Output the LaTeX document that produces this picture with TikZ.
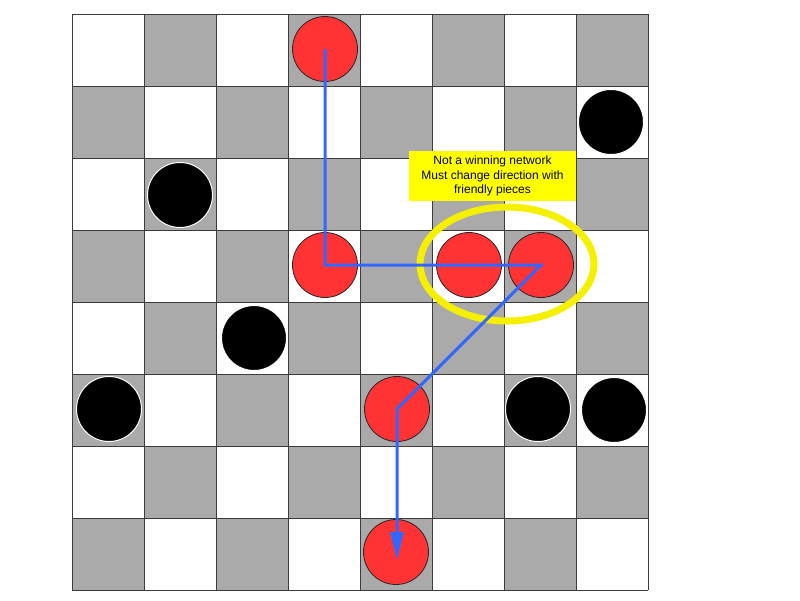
\documentclass[tikz,border=0pt]{standalone}
\usepackage{fontspec}
\setmainfont{Liberation Sans}
\usetikzlibrary{arrows.meta,shapes.geometric}
\definecolor{boardgray}{RGB}{170,170,170}
\definecolor{gridgray}{RGB}{60,60,60}
\definecolor{piecered}{RGB}{255,51,51}
\definecolor{pathblue}{RGB}{51,102,255}
\definecolor{hiyellow}{RGB}{255,255,0}
\definecolor{ringyellow}{RGB}{245,240,0}
\begin{document}
\begin{tikzpicture}[x=1pt,y=-1pt,
  gridline/.style={draw=gridgray,line width=0.9pt},
  redpiece/.style={circle,fill=piecered,draw=black!85,line width=0.8pt,minimum size=65pt,inner sep=0pt},
  blackpiece/.style={circle,fill=black,draw=white,line width=1pt,minimum size=65pt,inner sep=0pt},
  hiring/.style={ellipse,draw=ringyellow,line width=7pt,minimum width=174pt,minimum height=114pt,inner sep=0pt},
  notebox/.style={fill=hiyellow,minimum width=167pt,minimum height=50pt,inner sep=0pt,align=center,font=\fontsize{12pt}{14.5pt}\selectfont},
  netpath/.style={draw=pathblue,line width=3pt,line join=miter,-{Triangle[length=28pt,width=13pt]}}
]
\useasboundingbox (0,0) rectangle (800,600);
\fill[white] (0,0) rectangle (800,600);
% board squares
\foreach \r in {0,...,7} {
  \foreach \c in {0,...,7} {
    \pgfmathtruncatemacro{\odd}{mod(\r+\c,2)}
    \ifnum\odd=1
      \fill[boardgray] ({72+72*\c},{14+72*\r}) rectangle +(72,72);
    \fi
  }
}
% grid lines
\foreach \i in {0,...,8} {
  \draw[gridline] ({72+72*\i},14) -- ({72+72*\i},590);
  \draw[gridline] (72,{14+72*\i}) -- (648,{14+72*\i});
}
% red pieces
\node[redpiece] (r03) at (325,49) {};
\node[redpiece] (r33) at (325,265) {};
\node[redpiece] (r35) at (469,265) {};
\node[redpiece] (r36) at (541,265) {};
\node[redpiece] (r54) at (397,409) {};
\node[redpiece] (r74) at (396,552) {};
% black pieces
\node[blackpiece] (b17) at (611,122) {};
\node[blackpiece] (b21) at (180,195) {};
\node[blackpiece] (b42) at (254,338) {};
\node[blackpiece] (b50) at (109,409) {};
\node[blackpiece] (b56) at (538,409) {};
\node[blackpiece] (b57) at (614,410) {};
% highlight ring and note
\node[hiring] (ring) at (507,264) {};
\node[notebox] (note) at (492.5,176) {Not a winning network\\Must change direction with\\friendly pieces};
% network path
\coordinate (tip) at (397,560);
\draw[netpath] (r03.center) -- (r33.center) -- (r36.center) -- (r54.center) -- (tip);
\end{tikzpicture}
\end{document}
